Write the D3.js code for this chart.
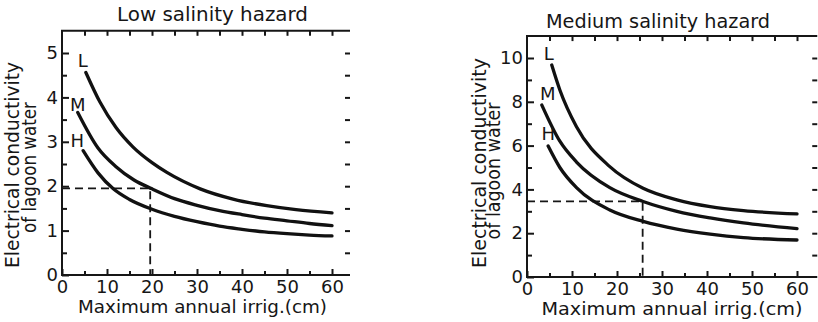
<!DOCTYPE html>
<html><head><meta charset="utf-8">
<script src="https://cdn.jsdelivr.net/npm/d3@7"></script>
<style>
body{margin:0;background:#fff}
svg{display:block}
text{font-family:"DejaVu Sans",sans-serif;fill:#161616}
</style>
</head><body>
<svg id="chart" width="818" height="322"></svg>
<script>
// ---------------- data ----------------
const xTicks = [0, 10, 20, 30, 40, 50, 60];
const lowYTicks = [0, 1, 2, 3, 4, 5];
const medYTicks = [0, 2, 4, 6, 8, 10];
const seriesNames = ["L", "M", "H"];

// Low salinity hazard panel
const lowL_x = [5.3, 8.4, 12, 15.8, 20, 23.3, 30.7, 38, 45.5, 52, 60];
const lowL_y = [4.56, 3.90, 3.32, 2.88, 2.53, 2.31, 1.94, 1.71, 1.56, 1.47, 1.40];
const lowM_x = [3.5, 8, 12, 16, 20, 25, 30, 35, 40, 45, 50, 55, 60];
const lowM_y = [3.66, 2.86, 2.44, 2.14, 1.94, 1.72, 1.57, 1.45, 1.36, 1.28, 1.22, 1.16, 1.11];
const lowH_x = [4.7, 8, 11.4, 15, 20, 25, 30, 35, 40, 45, 50, 55, 60];
const lowH_y = [2.80, 2.30, 1.94, 1.70, 1.48, 1.32, 1.20, 1.10, 1.03, 0.97, 0.93, 0.90, 0.88];
const lowRef = [19.6, 1.95];

// Medium salinity hazard panel
const medL_x = [5.5, 7.3, 11, 18.4, 25.8, 33.3, 40.7, 48.1, 60];
const medL_y = [9.68, 8.54, 6.86, 5.04, 4.05, 3.52, 3.21, 3.03, 2.88];
const medM_x = [3.3, 7.3, 11, 18.4, 25.8, 33.3, 40.7, 48.1, 60];
const medM_y = [7.85, 6.20, 5.25, 4.08, 3.45, 3.00, 2.70, 2.47, 2.21];
const medH_x = [4.7, 7.3, 11, 18.4, 25.8, 33.3, 40.7, 48.1, 60];
const medH_y = [5.98, 5.00, 4.08, 3.06, 2.54, 2.19, 1.96, 1.80, 1.69];
const medRef = [25.7, 3.45];

// ---------------- drawing ----------------
const svg = d3.select("#chart");

function panel(cfg) {
  const g = svg.append("g");
  const x = d3.scaleLinear().domain([0, 60]).range(cfg.xr);
  const y = d3.scaleLinear().domain([0, cfg.yMaxTick]).range(cfg.yr);
  const left = x(cfg.xLeft), right = x(cfg.xRight);
  const bottom = y(0), top = y(cfg.yTop);

  // frame lines (left, bottom, top)
  g.append("path")
    .attr("d", `M${right},${top}H${left}V${bottom}H${right}`)
    .attr("fill", "none").attr("stroke", "#161616").attr("stroke-width", 2);

  // bottom axis: major + minor inward ticks
  const minorX = d3.range(5, 61, 10);
  const gx = g.append("g").attr("transform", `translate(0,${bottom})`)
    .call(d3.axisBottom(x).tickValues(xTicks).tickSize(-6).tickPadding(5).tickFormat(d3.format("d")));
  gx.select(".domain").remove();
  g.append("g").attr("transform", `translate(0,${bottom})`)
    .call(d3.axisBottom(x).tickValues(minorX).tickSize(-4).tickFormat(""))
    .select(".domain").remove();

  // top ticks (inward)
  const topTicks = d3.range(5, 61, 5);
  g.append("g").attr("transform", `translate(0,${top})`)
    .call(d3.axisTop(x).tickValues(topTicks).tickSize(-5).tickFormat(""))
    .select(".domain").remove();

  // left axis
  const gy = g.append("g").attr("transform", `translate(${left},0)`)
    .call(d3.axisLeft(y).tickValues(cfg.yTicks).tickSize(-7).tickPadding(4).tickFormat(d3.format("d")));
  gy.select(".domain").remove();
  g.append("g").attr("transform", `translate(${left},0)`)
    .call(d3.axisLeft(y).tickValues(cfg.yMinor).tickSize(-5).tickFormat(""))
    .select(".domain").remove();

  // right ticks (no frame line visible)
  g.append("g").attr("transform", `translate(${right},0)`)
    .call(d3.axisRight(y).tickValues(cfg.yRightTicks).tickSize(-5).tickFormat(""))
    .select(".domain").remove();

  g.selectAll(".tick line").attr("stroke", "#161616").attr("stroke-width", 2);
  g.selectAll(".tick text").style("font-size", "18px").attr("fill", "#161616")
    .style("font-family", '"DejaVu Sans",sans-serif');

  // dashed reference lines
  g.append("path")
    .attr("d", `M${left},${y(cfg.ref[1])}H${x(cfg.ref[0])}V${bottom}`)
    .attr("fill", "none").attr("stroke", "#161616").attr("stroke-width", 1.8)
    .attr("stroke-dasharray", "8,5");

  // curves
  const line = d3.line().x(d => x(d[0])).y(d => y(d[1])).curve(d3.curveMonotoneX);
  cfg.series.forEach((s, i) => {
    const pts = s.xs.map((v, k) => [v, s.ys[k]]);
    g.append("path").datum(pts).attr("d", line)
      .attr("fill", "none").attr("stroke", "#111").attr("stroke-width", 3.3)
      .attr("stroke-linecap", "round");
    g.append("text")
      .attr("x", x(s.xs[0]) + cfg.labelDx[i])
      .attr("y", y(s.ys[0]) + cfg.labelDy[i])
      .attr("text-anchor", "middle").style("font-size", "18px")
      .text(seriesNames[i]);
  });

  // titles
  g.append("text").attr("x", cfg.title[1]).attr("y", cfg.title[2])
    .attr("text-anchor", "middle").style("font-size", "19px")
    .attr("textLength", cfg.title[3]).attr("lengthAdjust", "spacingAndGlyphs")
    .text(cfg.title[0]);
  g.append("text").attr("x", cfg.xlab[0]).attr("y", cfg.xlab[1])
    .attr("text-anchor", "middle").style("font-size", "18px")
    .attr("textLength", cfg.xlab[2]).attr("lengthAdjust", "spacingAndGlyphs")
    .text("Maximum annual irrig.(cm)");
  const yl = [["Electrical conductivity"].concat(cfg.ylab1), ["of lagoon water"].concat(cfg.ylab2)];
  yl.forEach(t => {
    g.append("text")
      .attr("transform", `translate(${t[1]},${t[2]}) rotate(-90)`)
      .attr("text-anchor", "middle").style("font-size", "19px")
      .attr("textLength", t[3]).attr("lengthAdjust", "spacingAndGlyphs")
      .text(t[0]);
  });
}

panel({
  xr: [62, 332], yr: [275, 53], yMaxTick: 5, yTop: 5.5, xLeft: 0, xRight: 64,
  yTicks: lowYTicks, yMinor: d3.range(0.5, 5.5, 1), yRightTicks: d3.range(0.5, 5.5, 0.5),
  ref: lowRef,
  series: [
    {xs: lowL_x, ys: lowL_y},
    {xs: lowM_x, ys: lowM_y},
    {xs: lowH_x, ys: lowH_y}
  ],
  labelDx: [-3, 0, -6], labelDy: [-6, -1, -4],
  title: ["Low salinity hazard", 212.5, 21, 191],
  xlab: [202.5, 313, 249],
  ylab1: [18.5, 165, 206],
  ylab2: [35.5, 167.5, 131]
});

panel({
  xr: [527, 797], yr: [277, 58], yMaxTick: 10, yTop: 11, xLeft: 0, xRight: 64.5,
  yTicks: medYTicks, yMinor: d3.range(1, 11, 2), yRightTicks: d3.range(1, 11, 1),
  ref: medRef,
  series: [
    {xs: medL_x, ys: medL_y},
    {xs: medM_x, ys: medM_y},
    {xs: medH_x, ys: medH_y}
  ],
  labelDx: [-3, 6, 0], labelDy: [-5, -5, -6],
  title: ["Medium salinity hazard", 658, 28, 224],
  xlab: [672, 315, 261],
  ylab1: [485.5, 163, 210],
  ylab2: [499.5, 171, 137]
});
</script>
</body></html>
